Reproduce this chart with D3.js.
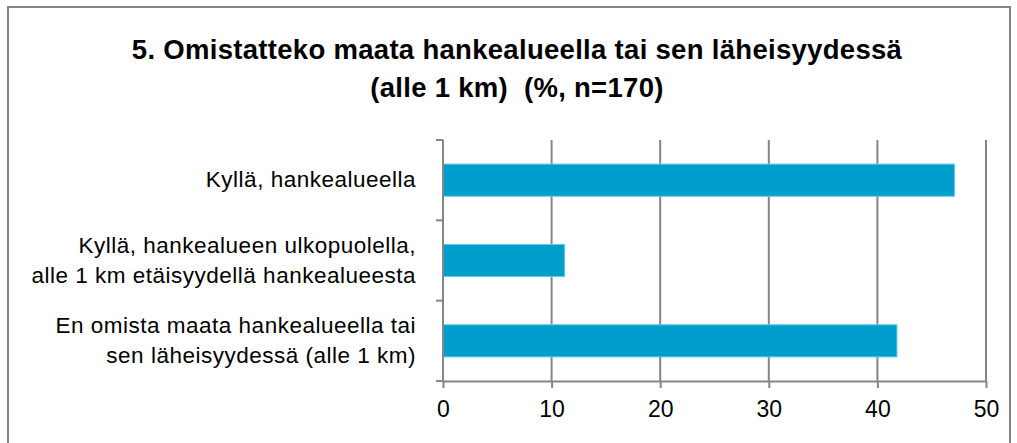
<!DOCTYPE html>
<html lang="fi">
<head>
  <meta charset="UTF-8" />
  <title>Omistatteko maata hankealueella</title>
  <script src="https://d3js.org/d3.v7.min.js"></script>
  <style>
    body { margin: 0; background: white; font-family: "Liberation Sans", Arial, sans-serif; }
    .grid line { stroke: #868686; stroke-width: 2px; }
    .axis path, .axis line { stroke: #868686; stroke-width: 2px; }
    .axis text { fill: #000; }
    .title { white-space: pre; letter-spacing: 0.3px; }
    .cat { letter-spacing: 0.5px; }
  </style>
</head>
<body>
  <svg id="chart" width="1017" height="443"></svg>

  <script>
    const categories = [
      ["Kyllä, hankealueella"],
      ["Kyllä, hankealueen ulkopuolella,", "alle 1 km etäisyydellä hankealueesta"],
      ["En omista maata hankealueella tai", "sen läheisyydessä (alle 1 km)"]
    ];
    const values = [47.1, 11.2, 41.8];
    const xTicks = [0, 10, 20, 30, 40, 50];
    const titleLines = ["5. Omistatteko maata hankealueella tai sen läheisyydessä", "(alle 1 km)  (%, n=170)"];

    const svg = d3.select("#chart");
    const margin = { left: 443, right: 31, top: 140, bottom: 62 };
    const width = 1017, height = 443;

    // chart frame
    svg.append("rect")
      .attr("x", 8).attr("y", 7)
      .attr("width", 1002).attr("height", 450)
      .attr("fill", "white")
      .attr("stroke", "#868686").attr("stroke-width", 2);

    svg.selectAll(".title")
      .data(titleLines)
      .join("text")
      .attr("class", "title")
      .attr("x", 517)
      .attr("y", (d, i) => 59 + i * 38)
      .attr("text-anchor", "middle")
      .attr("font-weight", "bold")
      .attr("font-size", 27.5)
      .text(d => d);

    const x = d3.scaleLinear().domain([0, 50]).range([margin.left, width - margin.right]);
    const y = d3.scaleBand().domain(d3.range(categories.length))
      .range([margin.top, height - margin.bottom]).paddingInner(0.6).paddingOuter(0.3);

    // vertical gridlines
    svg.append("g").attr("class", "grid")
      .selectAll("line")
      .data(xTicks.slice(1))
      .join("line")
      .attr("x1", d => x(d)).attr("x2", d => x(d))
      .attr("y1", margin.top).attr("y2", height - margin.bottom);

    svg.selectAll(".bar")
      .data(values)
      .join("rect")
      .attr("class", "bar")
      .attr("x", x(0))
      .attr("y", (d, i) => y(i))
      .attr("width", d => x(d) - x(0))
      .attr("height", y.bandwidth())
      .attr("fill", "#009ECC")
      .attr("stroke", "#5CCBEA")
      .attr("stroke-width", 1);

    // x axis
    svg.append("g").attr("class", "axis")
      .attr("transform", `translate(0,${height - margin.bottom})`)
      .call(d3.axisBottom(x).tickValues(xTicks).tickSize(7).tickSizeOuter(0).tickPadding(13))
      .call(g => g.selectAll("text").attr("font-size", 23));

    // y axis with category boundary ticks
    const step = (height - margin.bottom - margin.top) / categories.length;
    const yAxis = svg.append("g").attr("class", "axis");
    yAxis.append("line")
      .attr("x1", x(0)).attr("x2", x(0))
      .attr("y1", margin.top).attr("y2", height - margin.bottom);
    yAxis.selectAll(".tk")
      .data(d3.range(categories.length + 1))
      .join("line")
      .attr("class", "tk")
      .attr("x1", x(0) - 7).attr("x2", x(0))
      .attr("y1", i => margin.top + i * step).attr("y2", i => margin.top + i * step);

    const labels = svg.selectAll(".cat")
      .data(categories)
      .join("text")
      .attr("class", "cat")
      .attr("text-anchor", "end")
      .attr("font-size", 22.5)
      .attr("x", 416)
      .attr("y", (d, i) => y(i) + y.bandwidth() / 2 + 7 - (d.length - 1) * 15);
    labels.selectAll("tspan")
      .data(d => d)
      .join("tspan")
      .attr("x", 416)
      .attr("dy", (d, i) => i === 0 ? 0 : 30)
      .text(d => d);
  </script>
</body>
</html>
